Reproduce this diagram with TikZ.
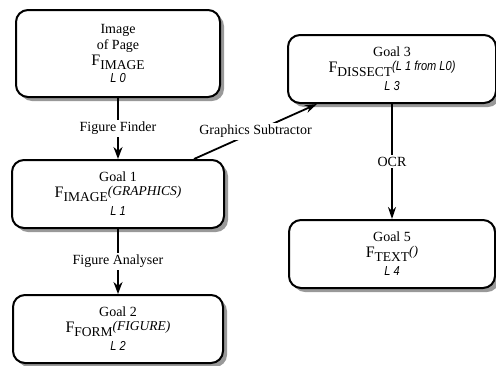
\documentclass[tikz,border=0pt]{standalone}
\usepackage{fontspec}
\setmainfont{Liberation Serif}
\newfontfamily\lfont[FakeStretch=0.85]{Liberation Sans}
\usetikzlibrary{arrows.meta,shadows}

\newcommand{\bigF}{{\fontsize{16}{16}\selectfont F}}
\newcommand{\lowpart}[1]{\raisebox{-3.5pt}{\fontsize{13.5}{13.5}\selectfont #1}}
\newcommand{\highpart}[1]{\raisebox{2pt}{\fontsize{13.5}{13.5}\selectfont\itshape #1}}
\newcommand{\lvl}[1]{{\fontsize{13}{15}\selectfont\lfont\itshape #1}}

\tikzstyle{goal} = [rectangle, rounded corners=12pt, minimum width=208pt, minimum height=68pt, text centered, align=center, draw=black, line width=2pt, fill=white, drop shadow={shadow xshift=4pt, shadow yshift=-4pt, fill=black!40, opacity=1}, font=\fontsize{14}{16}\selectfont]
\tikzstyle{arrow} = [line width=2.5pt, -{Stealth[length=12pt,width=9pt]}]
\tikzstyle{thinarrow} = [line width=1.8pt, -{Stealth[length=12pt,width=8pt]}]
\tikzstyle{edgelabel} = [fill=white, inner sep=2pt, font=\fontsize{14}{16}\selectfont]

\begin{document}
\begin{tikzpicture}[node distance = 140pt]
\useasboundingbox (0,0) rectangle (496pt,-365pt);

\node(pageimg) [goal, minimum width=204pt, minimum height=87pt] at (118pt,-53.5pt) {Image\\ of Page\\ \bigF\lowpart{IMAGE}\\[1pt] \lvl{L 0}};
\node(goalone) [goal, below of = pageimg, yshift=-0.5pt, minimum width=212pt] {Goal 1\\ \bigF\lowpart{IMAGE}\highpart{(GRAPHICS)}\\[2pt] \lvl{L 1}};
\node(goaltwo) [goal, below of = goalone, yshift=5pt, minimum width=210pt] {Goal 2\\ \bigF\lowpart{FORM}\highpart{(FIGURE)}\\[2pt] \lvl{L 2}};
\node(goalthree) [goal] at (392pt,-69pt) {Goal 3\\ \bigF\lowpart{DISSECT}\highpart{\lvl{(L 1 from L0)}}\\[2pt] \lvl{L 3}};
\node(goalfive) [goal, below of = goalthree, yshift=-45pt, minimum width=206pt] {Goal 5\\ \bigF\lowpart{TEXT}\highpart{()}\\[2pt] \lvl{L 4}};

\draw [arrow] (pageimg) -- node[edgelabel]{Figure Finder} (goalone);
\draw [arrow] (goalone) -- node[edgelabel]{Figure Analyser} (goaltwo);
\draw [thinarrow] (goalthree) -- node[edgelabel]{OCR} (goalfive);
\draw [thinarrow] ([xshift=76pt]goalone.north) -- node[edgelabel]{Graphics Subtractor} ([xshift=-75pt]goalthree.south);

\end{tikzpicture}
\end{document}
